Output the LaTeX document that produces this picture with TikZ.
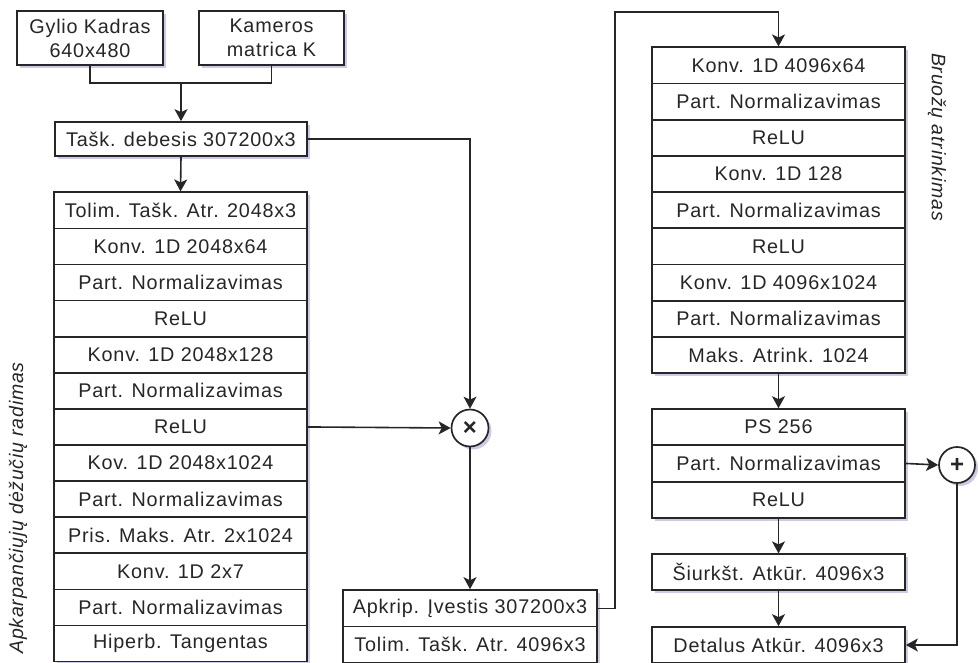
\documentclass[tikz,border=0pt]{standalone}
\usepackage{fontspec}
\setmainfont{Liberation Sans}[LetterSpace=4]
\usetikzlibrary{arrows.meta,shadows,calc}
\begin{document}
\begin{tikzpicture}[x=1pt,y=-1pt,
  font=\fontsize{19.8}{24}\selectfont,
  shad/.style={drop shadow={shadow xshift=3pt,shadow yshift=-3pt,opacity=0.3,fill=blue!35!gray}},
  box/.style={draw=black!85,line width=1.7pt,fill=white,inner sep=0pt,align=center,text=black!85,shad},
  lrow/.style={box,minimum width=253,minimum height=36.1},
  rrow/.style={box,minimum width=253,minimum height=36.2},
  op/.style={draw=black!85,line width=1.7pt,fill=white,circle,inner sep=0pt,minimum size=37,text=black!85,shad,font=\fontsize{24}{24}\selectfont\bfseries},
  conn/.style={line width=1.6pt,draw=black!85},
  arr/.style={conn,-{Stealth[length=12pt,width=13pt,inset=3pt]}},
  lab/.style={font=\fontsize{19.5}{24}\selectfont\itshape,text=black!85}
]
\useasboundingbox (0,0) rectangle (979,663);

% inputs
\node[box,minimum width=146,minimum height=54] (g) at (90,38) {Gylio Kadras\\640x480};
\node[box,minimum width=145,minimum height=54] (k) at (271.5,38) {Kameros\\matrica K};
\node[box,minimum width=252,minimum height=34] (t) at (181,139) {Tašk. debesis 307200x3};

% left stack
\foreach \i/\txt in {1/Tolim. Tašk. Atr. 2048x3,2/Konv. 1D 2048x64,3/Part. Normalizavimas,4/ReLU,5/Konv. 1D 2048x128,6/Part. Normalizavimas,7/ReLU,8/Kov. 1D 2048x1024,9/Part. Normalizavimas,10/Pris. Maks. Atr. 2x1024,11/Konv. 1D 2x7,12/Part. Normalizavimas,13/Hiperb. Tangentas}{
  \node[lrow] (L\i) at (180.5,{192.3+36.1*(\i-0.5)}) {\txt};
}

% multiply
\node[op] (mul) at (470,428) {×};

% cropped input
\node[box,minimum width=254,minimum height=36.5] (a1) at (470,608.3) {Apkrip. Įvestis 307200x3};
\node[box,minimum width=254,minimum height=36.5] (a2) at (470,644.8) {Tolim. Tašk. Atr. 4096x3};

% right stack
\foreach \i/\txt in {1/Konv. 1D 4096x64,2/Part. Normalizavimas,3/ReLU,4/Konv. 1D 128,5/Part. Normalizavimas,6/ReLU,7/Konv. 1D 4096x1024,8/Part. Normalizavimas,9/Maks. Atrink. 1024}{
  \node[rrow] (R\i) at (778.5,{47.3+36.2*(\i-0.5)}) {\txt};
}

% PS stack
\foreach \i/\txt in {1/PS 256,2/Part. Normalizavimas,3/ReLU}{
  \node[rrow] (P\i) at (778.5,{409+36.3*(\i-0.5)}) {\txt};
}
\node[box,minimum width=253,minimum height=35.5] (s) at (778.5,572) {Šiurkšt. Atkūr. 4096x3};
\node[box,minimum width=253,minimum height=36] (d) at (778.5,645) {Detalus Atkūr. 4096x3};

% plus
\node[op,minimum size=36] (plus) at (957,465) {+};

% labels
\node[lab,rotate=90] (lbl1) at (18,508) {Apkarpančiųjų dėžučių radimas};
\node[lab,rotate=-90] (lbl2) at (937,137) {Bruožų atrinkimas};

% connectors
\coordinate (j) at (181,83);
\draw[conn] (g.south) |- (j) -| (k.south);
\draw[arr] (j) -- (t.north);
\draw[arr] (t.south) -- (L1.north);
\draw[arr] (t.east) -| (mul.north);
\draw[arr] (L7.east) -- (mul.west);
\draw[arr] (mul.south) -- (a1.north);
\coordinate (c1) at (615,12);
\draw[arr] (a1.east) -| (c1) -| (R1.north);
\draw[arr] (R9.south) -- (P1.north);
\draw[arr] (P2.east) -- (plus.west);
\draw[arr] (P3.south) -- (s.north);
\draw[arr] (s.south) -- (d.north);
\draw[arr] (plus.south) |- (d.east);
\end{tikzpicture}
\end{document}
